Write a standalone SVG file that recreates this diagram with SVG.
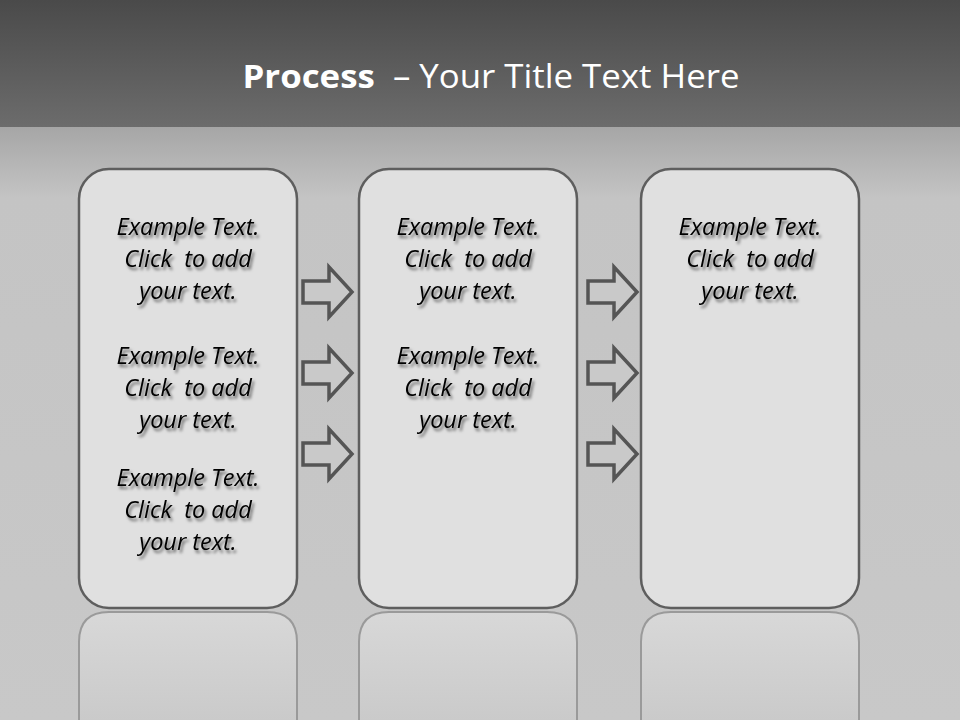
<svg xmlns="http://www.w3.org/2000/svg" width="960" height="720" viewBox="0 0 960 720">
<defs>
<linearGradient id="hdr" x1="0" y1="0" x2="0" y2="1">
<stop offset="0" stop-color="#4a4a4a"/>
<stop offset="1" stop-color="#6c6c6c"/>
</linearGradient>
<linearGradient id="bg" x1="0" y1="0" x2="0" y2="1">
<stop offset="0" stop-color="#a6a6a6"/>
<stop offset="0.12" stop-color="#c4c4c4"/>
<stop offset="1" stop-color="#c8c8c8"/>
</linearGradient>
<linearGradient id="refl" x1="0" y1="0" x2="0" y2="1">
<stop offset="0" stop-color="#d8d8d8"/>
<stop offset="1" stop-color="#cacaca"/>
</linearGradient>
<filter id="sh" x="-10%" y="-20%" width="130%" height="160%">
<feDropShadow dx="2" dy="3" stdDeviation="1.8" flood-color="#000" flood-opacity="0.55"/>
</filter>
<path id="arrow" d="M0,-11 H26 V-25 L49,0 L26,25 V11 H0 Z"/>
</defs>
<style>
.box{fill:#e0e0e0;stroke:#5e5e5e;stroke-width:2.5}
.refl{fill:url(#refl);stroke:#9a9a9a;stroke-width:2}
.arr{fill:#c9c9c9;stroke:#555555;stroke-width:3.5;stroke-linejoin:miter}
.t{font-family:"Open Sans","Liberation Sans",sans-serif;font-style:italic;font-size:23.5px;fill:#000;text-anchor:middle;filter:url(#sh);white-space:pre}
.title{font-family:"Open Sans","Liberation Sans",sans-serif;font-size:32px;fill:#fff;text-anchor:middle;white-space:pre}
</style>
<rect x="0" y="127" width="960" height="593" fill="url(#bg)"/>
<rect x="0" y="0" width="960" height="127" fill="url(#hdr)"/>
<text class="title" x="491" y="88" textLength="497" lengthAdjust="spacingAndGlyphs"><tspan font-weight="bold">Process</tspan>  – Your Title Text Here</text>

<g id="reflections">
<path class="refl" d="M79,720 V642 Q79,612 109,612 H267 Q297,612 297,642 V720"/>
<path class="refl" d="M359,720 V642 Q359,612 389,612 H547 Q577,612 577,642 V720"/>
<path class="refl" d="M641,720 V642 Q641,612 671,612 H829 Q859,612 859,642 V720"/>
</g>

<g id="node1">
<rect class="box" x="79" y="169" width="218" height="439" rx="30" ry="30"/>
<text class="t" x="188" y="235">Example Text.</text>
<text class="t" x="188" y="267">Click  to add</text>
<text class="t" x="188" y="299">your text.</text>
<text class="t" x="188" y="364">Example Text.</text>
<text class="t" x="188" y="396">Click  to add</text>
<text class="t" x="188" y="428">your text.</text>
<text class="t" x="188" y="486">Example Text.</text>
<text class="t" x="188" y="518">Click  to add</text>
<text class="t" x="188" y="550">your text.</text>
</g>
<g id="node2">
<rect class="box" x="359" y="169" width="218" height="439" rx="30" ry="30"/>
<text class="t" x="468" y="235">Example Text.</text>
<text class="t" x="468" y="267">Click  to add</text>
<text class="t" x="468" y="299">your text.</text>
<text class="t" x="468" y="364">Example Text.</text>
<text class="t" x="468" y="396">Click  to add</text>
<text class="t" x="468" y="428">your text.</text>
</g>
<g id="node3">
<rect class="box" x="641" y="169" width="218" height="439" rx="30" ry="30"/>
<text class="t" x="750" y="235">Example Text.</text>
<text class="t" x="750" y="267">Click  to add</text>
<text class="t" x="750" y="299">your text.</text>
</g>

<g id="connectors">
<use href="#arrow" class="arr" x="303" y="292"/>
<use href="#arrow" class="arr" x="303" y="373"/>
<use href="#arrow" class="arr" x="303" y="454"/>
<use href="#arrow" class="arr" x="588" y="292"/>
<use href="#arrow" class="arr" x="588" y="373"/>
<use href="#arrow" class="arr" x="588" y="454"/>
</g>
</svg>
